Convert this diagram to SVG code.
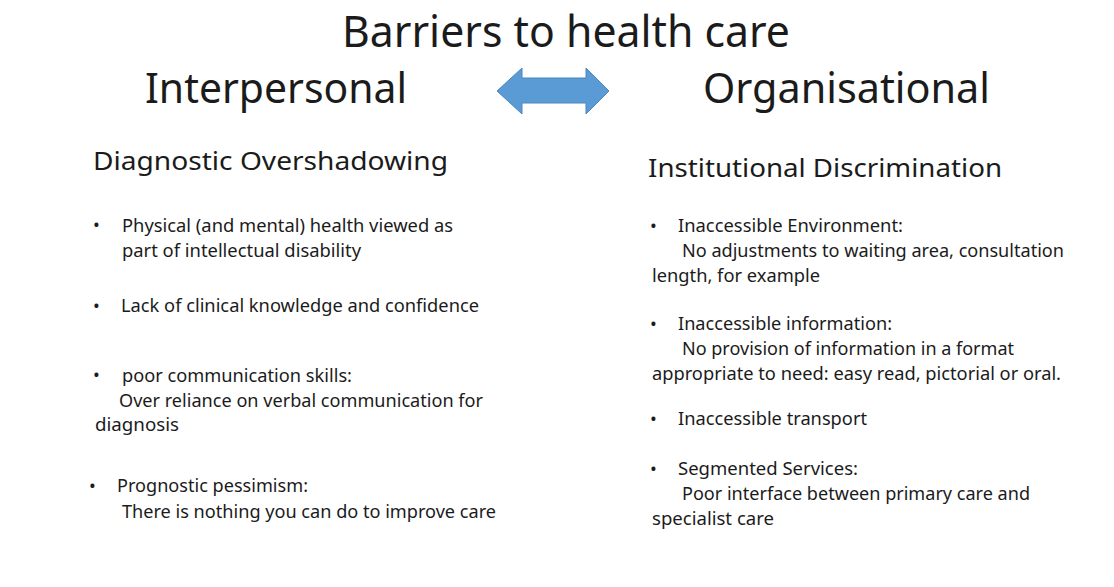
<svg xmlns="http://www.w3.org/2000/svg" width="1114" height="587" viewBox="0 0 1114 587">
<style>
text { font-family: "Noto Sans", "Open Sans", "Liberation Sans", sans-serif; fill: #1b1b1b; }
.title { font-size: 43px; }
.head { font-size: 42px; }
.sub { font-size: 25px; }
.body { font-size: 18px; }
.arrow { fill: #5B9BD5; stroke: #4a86c0; stroke-width: 1; }
</style>
<rect x="0" y="0" width="1114" height="587" fill="#ffffff"/>
<g id="title">
<text class="title" x="342" y="47" textLength="448" lengthAdjust="spacingAndGlyphs">Barriers to health care</text>
</g>
<g id="interpersonal">
<text class="head" x="145" y="103" textLength="262" lengthAdjust="spacingAndGlyphs">Interpersonal</text>
</g>
<g id="organisational">
<text class="head" x="703" y="103" textLength="287" lengthAdjust="spacingAndGlyphs">Organisational</text>
</g>
<g id="connectors">
<polygon class="arrow" points="497,91 522,68 522,78 586,78 586,68 609,91 586,114 586,103 522,103 522,114"/>
</g>
<g id="diagnostic-overshadowing">
<text class="sub" x="93" y="170" textLength="355" lengthAdjust="spacingAndGlyphs">Diagnostic  Overshadowing</text>
<text class="body" x="93" y="231">•</text>
<text class="body" x="122" y="232" textLength="331" lengthAdjust="spacingAndGlyphs">Physical (and mental) health viewed as</text>
<text class="body" x="122" y="257" textLength="239" lengthAdjust="spacingAndGlyphs">part of intellectual disability</text>
<text class="body" x="93" y="312">•</text>
<text class="body" x="121" y="312" textLength="358" lengthAdjust="spacingAndGlyphs">Lack of clinical knowledge and confidence</text>
<text class="body" x="93" y="381">•</text>
<text class="body" x="122" y="382" textLength="230" lengthAdjust="spacingAndGlyphs">poor communication skills:</text>
<text class="body" x="119" y="407" textLength="364" lengthAdjust="spacingAndGlyphs">Over reliance on verbal communication for</text>
<text class="body" x="95" y="431" textLength="84" lengthAdjust="spacingAndGlyphs">diagnosis</text>
<text class="body" x="89" y="492">•</text>
<text class="body" x="117" y="492" textLength="191" lengthAdjust="spacingAndGlyphs">Prognostic pessimism:</text>
<text class="body" x="122" y="518" textLength="374" lengthAdjust="spacingAndGlyphs">There is nothing you can do to improve care</text>
</g>
<g id="institutional-discrimination">
<text class="sub" x="648" y="177" textLength="354" lengthAdjust="spacingAndGlyphs">Institutional Discrimination</text>
<text class="body" x="650" y="232">•</text>
<text class="body" x="678" y="232" textLength="225" lengthAdjust="spacingAndGlyphs">Inaccessible Environment:</text>
<text class="body" x="682" y="257" textLength="382" lengthAdjust="spacingAndGlyphs">No adjustments to waiting area, consultation</text>
<text class="body" x="652" y="282" textLength="168" lengthAdjust="spacingAndGlyphs">length, for example</text>
<text class="body" x="650" y="330">•</text>
<text class="body" x="678" y="330" textLength="214" lengthAdjust="spacingAndGlyphs">Inaccessible information:</text>
<text class="body" x="682" y="355" textLength="332" lengthAdjust="spacingAndGlyphs">No provision of information in a format</text>
<text class="body" x="652" y="380" textLength="409" lengthAdjust="spacingAndGlyphs">appropriate to need: easy read, pictorial or oral.</text>
<text class="body" x="650" y="425">•</text>
<text class="body" x="678" y="425" textLength="189" lengthAdjust="spacingAndGlyphs">Inaccessible transport</text>
<text class="body" x="650" y="475">•</text>
<text class="body" x="678" y="475" textLength="180" lengthAdjust="spacingAndGlyphs">Segmented Services:</text>
<text class="body" x="682" y="500" textLength="348" lengthAdjust="spacingAndGlyphs">Poor interface between primary care and</text>
<text class="body" x="652" y="525" textLength="122" lengthAdjust="spacingAndGlyphs">specialist care</text>
</g>
</svg>
